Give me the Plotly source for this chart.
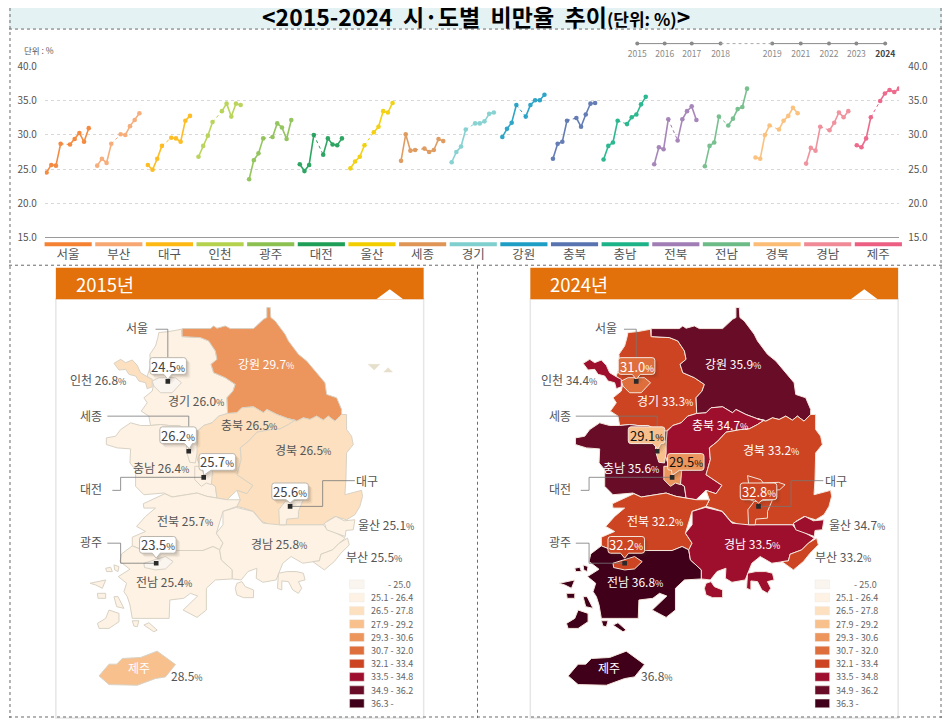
import plotly.graph_objects as go

W, H = 952, 724
PAD, INNER_W, INNER_H = 8, 936, 708   # the picture shows the window inside an 8 px frame
FONT = "Noto Sans CJK KR"
GREY = "#555555"

# ---------- data ----------
REGIONS = ["서울", "부산", "대구", "인천", "광주", "대전", "울산", "세종", "경기", "강원", "충북", "충남", "전북", "전남", "경북", "경남", "제주"]
YEARS = [2015, 2016, 2017, 2018, 2019, 2021, 2022, 2023, 2024]
YEAR_SLOTS = [0, 1, 2, 3, 5, 6, 7, 8, 9]
SERIES_COLORS = ["#F58233", "#F7A872", "#FDB813", "#B5D24F", "#8CC152", "#1E9E56", "#F2CE00", "#DE9555", "#7FCFCF",
                 "#1E9EC4", "#5873AF", "#1DB388", "#A07DB5", "#6DBB86", "#FBBC75", "#EF8A96", "#EC5F83"]
SEOUL = [24.5, 25.6, 25.5, 28.7, 28.6, 29.4, 30.3, 29.0, 31.0]
BUSAN = [25.5, 26.5, 25.9, 28.7, 30.1, 30.0, 31.3, 32.2, 33.2]
DAEGU = [25.6, 24.9, 26.5, 28.4, 29.6, 29.5, 29.0, 32.1, 32.8]
INCHEON = [26.8, 28.4, 29.9, 31.9, 33.5, 34.6, 32.7, 34.6, 34.4]
GWANGJU = [23.5, 26.3, 27.3, 29.5, 29.7, 31.7, 31.1, 29.4, 32.2]
DAEJEON = [25.7, 24.7, 25.6, 30.0, 27.1, 29.5, 28.6, 28.5, 29.5]
ULSAN = [25.1, 26.1, 26.8, 28.5, 30.4, 31.2, 33.5, 33.3, 34.7]
SEJONG = [26.2, 30.1, 27.7, 27.8, 28.0, 27.5, 27.8, 29.4, 29.1]
GYEONGGI = [26.0, 27.5, 28.3, 30.8, 31.7, 31.7, 32.0, 33.1, 33.3]
GANGWON = [29.7, 30.9, 31.8, 34.4, 32.7, 34.4, 35.1, 35.1, 35.9]
CHUNGBUK = [26.5, 28.7, 29.0, 32.1, 32.5, 31.2, 33.0, 34.6, 34.7]
CHUNGNAM = [26.4, 28.4, 28.9, 32.1, 31.6, 32.6, 33.0, 34.5, 35.6]
JEONBUK = [25.7, 28.2, 27.9, 32.3, 29.2, 32.3, 33.5, 34.2, 32.2]
JEONNAM = [25.4, 28.4, 28.9, 32.7, 31.4, 32.4, 33.8, 34.1, 36.8]
GYEONGBUK = [26.7, 26.5, 30.0, 31.4, 30.8, 32.1, 32.8, 34.0, 33.2]
GYEONGNAM = [25.8, 28.1, 27.7, 31.2, 30.7, 31.8, 33.3, 32.6, 33.5]
JEJU = [28.5, 28.2, 29.5, 32.6, 35.0, 36.1, 36.6, 36.3, 36.8]
ALL_SERIES = [SEOUL, BUSAN, DAEGU, INCHEON, GWANGJU, DAEJEON, ULSAN, SEJONG, GYEONGGI, GANGWON, CHUNGBUK, CHUNGNAM,
              JEONBUK, JEONNAM, GYEONGBUK, GYEONGNAM, JEJU]
MAP_2015 = dict(zip(REGIONS, [24.5, 25.5, 25.6, 26.8, 23.5, 25.7, 25.1, 26.2, 26.0, 29.7, 26.5, 26.4, 25.7, 25.4, 26.5, 25.8, 28.5]))
MAP_2024 = dict(zip(REGIONS, [31.0, 33.2, 32.8, 34.4, 32.2, 29.5, 34.7, 29.1, 33.3, 35.9, 34.7, 35.6, 32.2, 36.8, 33.2, 33.5, 36.8]))
BIN_UPPER = [25.0, 26.4, 27.8, 29.2, 30.6, 32.0, 33.4, 34.8, 36.2, 99]
BIN_COLORS = ["#FBF5F0", "#FDF2E4", "#FCE0BF", "#F8C08C", "#EC955C", "#DE6E3C", "#CC4421", "#9E0F2E", "#680C28", "#40001A"]
BIN_LABELS = ["- 25.0", "25.1 - 26.4", "26.5 - 27.8", "27.9 - 29.2", "29.3 - 30.6", "30.7 - 32.0", "32.1 - 33.4", "33.5 - 34.8", "34.9 - 36.2", "36.3 -"]

# ---------- schematic map outlines (map units) ----------
OUT_GYEONGGI = [(355,200),(385,197),(423,190),(425,212),(480,215),(505,225),(525,255),(530,280),(512,295),(520,320),(555,335),(585,355),(578,375),(560,395),(562,442),(535,450),(515,470),(490,478),(470,495),(440,490),(415,478),(385,478),(360,475),(330,478),(325,450),(302,435),(320,410),(310,395),(335,375),(340,350),(320,330),(330,300),(328,265),(345,240),(352,215)]
OUT_GANGWON = [(425,188),(510,188),(520,180),(530,187),(555,180),(570,188),(640,188),(670,160),(680,155),(680,125),(690,125),(692,155),(705,165),(735,205),(745,225),(775,265),(800,285),(830,320),(855,350),(860,385),(890,395),(905,430),(905,445),(885,465),(865,450),(850,462),(830,450),(810,460),(790,455),(770,465),(745,458),(710,445),(680,430),(670,440),(640,422),(605,425),(590,440),(562,442),(560,395),(578,375),(585,355),(555,335),(520,320),(512,295),(530,280),(525,255),(505,225),(480,215),(425,212)]
OUT_INCHEON = [(220,292),(240,280),(255,290),(275,282),(290,298),(300,320),(320,332),(335,340),(335,362),(320,368),(315,350),(295,345),(285,330),(265,325),(255,310),(235,312)]
OUT_CHUNGBUK = [(562,442),(590,440),(605,425),(640,422),(670,440),(680,430),(710,445),(745,458),(765,462),(745,475),(720,488),(695,490),(650,498),(625,525),(600,545),(603,580),(590,625),(638,657),(620,682),(590,672),(560,700),(530,695),(525,660),(510,650),(515,600),(475,590),(465,560),(470,530),(473,495),(490,478),(515,470),(535,450)]
OUT_CHUNGNAM = [(330,478),(300,478),(270,470),(240,490),(225,510),(197,515),(197,535),(230,545),(270,548),(268,590),(285,610),(285,660),(310,685),(370,680),(395,692),(440,685),(470,680),(500,690),(530,695),(525,660),(510,650),(515,600),(475,590),(465,560),(470,530),(473,495),(440,490),(415,478),(385,478),(360,475)]
OUT_GYEONGBUK = [(745,458),(770,465),(790,455),(810,460),(830,450),(850,462),(865,450),(885,465),(905,445),(920,445),(920,490),(935,510),(940,535),(920,560),(918,640),(915,685),(965,672),(968,690),(960,720),(945,745),(920,760),(885,750),(860,765),(850,775),(745,775),(712,775),(690,775),(665,765),(640,735),(610,725),(590,720),(600,700),(590,672),(620,682),(638,657),(590,625),(603,580),(600,545),(625,525),(650,498),(695,490),(720,488),(745,475),(765,462)]
OUT_JEONBUK = [(308,712),(373,682),(395,692),(440,685),(470,680),(500,690),(530,695),(560,700),(600,700),(590,720),(548,735),(528,800),(548,830),(538,850),(518,840),(488,852),(400,852),(310,852),(275,838),(275,812),(315,795),(288,780),(315,750),(345,725),(310,725)]
OUT_JEONNAM = [(275,838),(310,852),(400,852),(488,852),(518,840),(538,850),(543,880),(576,910),(576,937),(525,940),(498,965),(498,1030),(470,1052),(428,1030),(472,988),(450,980),(430,995),(388,1000),(386,1055),(300,1055),(275,1055),(268,1015),(260,990),(250,975),(258,950),(233,930),(268,908),(238,885),(243,862)]
OUT_GYEONGNAM = [(548,735),(588,723),(638,735),(668,770),(718,775),(850,775),(858,785),(890,800),(916,815),(898,830),(878,850),(843,863),(838,883),(818,885),(788,890),(753,870),(728,890),(708,940),(668,947),(648,935),(650,905),(623,915),(603,940),(576,937),(576,910),(543,880),(538,850),(548,830),(528,800),(548,775)]
OUT_ULSAN = [(853,770),(888,750),(913,763),(945,760),(940,790),(918,792),(916,810),(890,800),(860,790)]
OUT_BUSAN = [(923,815),(928,835),(903,860),(883,885),(853,910),(818,885),(838,883),(843,863),(878,850),(898,830)]
OUT_DAEGU = [(735,705),(790,700),(775,735),(775,755),(740,758),(738,775),(718,775),(716,730)]
OUT_GUNWI = [(715,628),(755,640),(762,650),(808,648),(828,655),(812,670),(795,672),(790,700),(735,705),(700,690),(735,665),(718,650)]
OUT_SEOUL = [(335,345),(355,335),(380,335),(405,335),(423,350),(395,380),(360,380),(340,360)]
OUT_SEJONG = [(438,525),(470,525),(470,560),(465,590),(448,588),(438,555)]
OUT_DAEJEON = [(463,600),(518,600),(513,655),(498,650),(483,660),(463,640)]
OUT_GWANGJU = [(310,890),(340,880),(375,870),(398,885),(375,907),(345,910),(312,903)]
OUT_JEJU = [(175,1227),(205,1192),(228,1192),(245,1175),(300,1172),(350,1153),(405,1193),(375,1230),(345,1235),(290,1255),(205,1253)]
ISLES_GYEONGNAM = [[(715,920),(740,915),(770,915),(790,920),(795,940),(775,945),(785,965),(775,980),(758,970),(745,945),(725,943),(725,970),(712,965)],
                   [(590,950),(605,945),(615,960),(640,970),(640,993),(610,993),(590,985),(585,965)]]
ISLES_JEONNAM = [[(170,1070),(195,1055),(205,1030),(235,1040),(235,1065),(205,1085),(175,1085)],
                 [(148,950),(172,945),(195,940),(185,965),(165,955)],
                 [(170,980),(195,980),(195,995),(172,995)],
                 [(220,990),(232,990),(250,1025),(228,1020)],
                 [(310,1075),(325,1068),(350,1090),(340,1095)],
                 [(275,1062),(295,1062),(290,1080),(280,1078)],
                 [(195,905),(210,902),(215,915),(198,915)],
                 [(220,895),(235,900),(232,915),(222,910)]]
ISLES_EAST = [[(985,295),(1020,295),(1003,312)], [(1032,318),(1058,318),(1045,305)]]

BASE = [("경기", OUT_GYEONGGI), ("강원", OUT_GANGWON), ("인천", OUT_INCHEON), ("충남", OUT_CHUNGNAM), ("충북", OUT_CHUNGBUK),
        ("경북", OUT_GYEONGBUK), ("전북", OUT_JEONBUK), ("전남", OUT_JEONNAM), ("경남", OUT_GYEONGNAM), ("울산", OUT_ULSAN),
        ("부산", OUT_BUSAN), ("대구", OUT_DAEGU), ("서울", OUT_SEOUL), ("세종", OUT_SEJONG), ("대전", OUT_DAEJEON),
        ("광주", OUT_GWANGJU), ("제주", OUT_JEJU)]
ISLES = [("경남", i) for i in ISLES_GYEONGNAM] + [("전남", i) for i in ISLES_JEONNAM]

# ---------- helpers: reference pixels to paper fractions ----------
px = lambda x: min(1, max(0, (x - PAD) / INNER_W))
py = lambda y: min(1, max(0, 1 - (y - PAD) / INNER_H))
MAP_BOTTOM_Y = (PAD + INNER_H - 265) * 3


def bin_color(v):
    for up, c in zip(BIN_UPPER, BIN_COLORS):
        if v <= up:
            return c
    return BIN_COLORS[-1]


def pct(v, big=12, small=9):
    return f"<span style='font-size:{big}px'>{v:.1f}</span><span style='font-size:{small}px'>%</span>"


fig = go.Figure()

# ---------- small multiple lines ----------
STEP_PX, PERIOD_PX, FIRST_PX = 4.7, 50.8, 45.7
x_of = lambda i, s: i * PERIOD_PX / STEP_PX + s
for i, (name, vals, col) in enumerate(zip(REGIONS, ALL_SERIES, SERIES_COLORS)):
    xs = [x_of(i, s) for s in YEAR_SLOTS]
    fig.add_trace(go.Scatter(x=xs[3:5], y=vals[3:5], mode="lines", line=dict(color=col, width=1, dash="dot"),
                             xaxis="x", yaxis="y", hoverinfo="skip", showlegend=False))
    fig.add_trace(go.Scatter(x=xs[:4] + [None] + xs[4:], y=vals[:4] + [None] + vals[4:], mode="lines+markers", name=name,
                             line=dict(color=col, width=1.6), marker=dict(color=col, size=4.6), opacity=0.92,
                             xaxis="x", yaxis="y", showlegend=False))
fig.add_trace(go.Scatter(x=[0], y=[15], mode="markers", marker=dict(opacity=0), xaxis="x", yaxis="y2",
                         hoverinfo="skip", showlegend=False))

# ---------- time key ----------
KEY_POS = [0, 0.97, 1.93, 2.95, 4.78, 5.79, 6.79, 7.76, 8.78]
fig.add_trace(go.Scatter(x=KEY_POS[:4] + [None] + KEY_POS[4:], y=[0] * 4 + [None] + [0] * 5, mode="lines+markers",
                         line=dict(color="#8a8a8a", width=1), marker=dict(color="#8a8a8a", size=4), cliponaxis=False,
                         xaxis="x2", yaxis="y3", hoverinfo="skip", showlegend=False))
fig.add_trace(go.Scatter(x=KEY_POS[3:5], y=[0, 0], mode="lines", line=dict(color="#aaaaaa", width=1, dash="dot"),
                         xaxis="x2", yaxis="y3", hoverinfo="skip", showlegend=False))

# ---------- maps ----------
PANELS = [dict(ax="x3", ay="y4", vals=MAP_2015, edge="#D9D2C4", year=2015), dict(ax="x4", ay="y5", vals=MAP_2024, edge="#F4E6DC", year=2024)]
for P in PANELS:
    for name, outline in BASE + ISLES + ([("대구", OUT_GUNWI)] if P["year"] == 2024 else []):
        xs = [p[0] for p in outline] + [outline[0][0]]
        ys = [p[1] for p in outline] + [outline[0][1]]
        fig.add_trace(go.Scatter(x=xs, y=ys, mode="lines", fill="toself", fillcolor=bin_color(P["vals"][name]),
                                 line=dict(color=P["edge"], width=1), xaxis=P["ax"], yaxis=P["ay"], name=name,
                                 hoverinfo="name", showlegend=False))
    if P["year"] == 2015:
        for isle in ISLES_EAST:
            fig.add_trace(go.Scatter(x=[p[0] for p in isle] + [isle[0][0]], y=[p[1] for p in isle] + [isle[0][1]], mode="lines",
                                     fill="toself", fillcolor="#E6DFCC", line=dict(color="#E6DFCC", width=0.5),
                                     xaxis=P["ax"], yaxis=P["ay"], hoverinfo="skip", showlegend=False))

shapes, ann = [], []


def rect(x0, y0, x1, y1, **kw):
    shapes.append(dict(type="rect", xref="paper", yref="paper", x0=px(x0), x1=px(x1), y0=py(y0), y1=py(y1), **kw))


def dots(x0, y0, x1, y1):
    shapes.append(dict(type="line", xref="paper", yref="paper", x0=px(x0), x1=px(x1), y0=py(y0), y1=py(y1),
                       line=dict(color="#6a6a6a", width=1, dash="dot")))


# header band and dotted frame
rect(0, 0, 952, 29, fillcolor="#E4F2F4", line=dict(width=0), layer="below")
for seg in [(0, 29, 952, 29), (0, 264.5, 952, 264.5), (478, 265, 478, 724), (0, 715, 952, 715), (9, 0, 9, 724), (943, 0, 943, 724)]:
    dots(*seg)

# category colour bars
for i, col in enumerate(SERIES_COLORS):
    rect(43.7 + i * PERIOD_PX, 241.7, 91 + i * PERIOD_PX, 245.7, fillcolor=col, line=dict(width=0))

ann.append(dict(xref="paper", yref="paper", x=px(476), y=py(15.5), xanchor="center", yanchor="middle", showarrow=False,
                font=dict(family=FONT, size=23, color="#000"),
                text="<b>&lt;2015-2024\u00a0 시·도별\u00a0 비만율\u00a0 추이<span style='font-size:17px'>(단위: %)</span>&gt;</b>"))
ann.append(dict(xref="paper", yref="paper", x=px(21), y=py(50), xanchor="left", yanchor="middle", showarrow=False,
                font=dict(family=FONT, size=8.5, color=GREY), text="단위 : %"))

# panels
for left, right, year in [(55, 424, 2015), (531, 900, 2024)]:
    rect(left, 298, right, 720, fillcolor="white", line=dict(color="#E6E6E6", width=1.5), layer="below")
    rect(left, 267, right, 298.5, fillcolor="#E2700B", line=dict(width=0), layer="below")
    mid = right - 34
    shapes.append(dict(type="path", xref="paper", yref="paper", fillcolor="white", line=dict(width=0), layer="above",
                       path=f"M {px(mid-13.5)} {py(298.5)} L {px(mid)} {py(288.5)} L {px(mid+13.5)} {py(298.5)} Z"))
    ann.append(dict(xref="paper", yref="paper", x=px(left + 18), y=py(283.5), xanchor="left", yanchor="middle", showarrow=False,
                    font=dict(family=FONT, size=18.5, color="white"), text=f"{year}년"))

LEADERS = {"서울": [(345,190),(382,190),(382,346)], "세종": [(200,450),(445,450),(445,555)], "대전": [(215,672),(240,672),(240,633),(490,633)],
           "대구": [(945,643),(848,643),(848,720),(750,720)], "광주": [(200,830),(240,830),(240,890),(347,890)]}
CALLOUTS = {"서울": (328,275,382,340), "세종": (358,482,447,548), "대전": (476,562,490,627), "대구": (695,650,750,710), "광주": (297,810,347,875)}
NAME_ONLY = {"서울": (290,190), "세종": (152,452), "대전": (152,672), "대구": (982,647), "광주": (152,830)}
INLINE = {"인천": (173,345), "강원": (677,298), "경기": (467,408), "충북": (627,478), "경북": (790,553), "충남": (362,607), "전북": (433,768),
          "경남": (716,835), "울산": (1040,780), "부산": (1002,875), "전남": (370,950)}
INLINE_2024 = {"인천": (178,345), "강원": (671,298), "경기": (466,408), "충북": (631,478), "경북": (785,553), "충남": (363,607), "전북": (436,768),
               "경남": (728,835), "울산": (1043,780), "부산": (1003,875), "전남": (376,950)}
WHITE_2015 = {"강원"}
WHITE_2024 = {"강원", "경기", "충북", "경북", "충남", "전북", "경남", "전남"}
BOX_W, BOX_H, R = 110, 50, 8
LABEL_LIFT = 1.5

for P, dx, leg_x in [(PANELS[0], 0, 929), (PANELS[1], -2, 918)]:
    xr, yr = P["ax"], P["ay"]
    is15 = P["year"] == 2015
    # legend
    for k, (c, lab) in enumerate(zip(BIN_COLORS, BIN_LABELS)):
        yc = 953 + 39.6 * k
        shapes.append(dict(type="rect", xref=xr, yref=yr, x0=leg_x, x1=leg_x + 44, y0=yc - 13, y1=yc + 13, fillcolor=c, line=dict(color="#EFEAE4", width=0.5)))
        if k == 0:
            ann.append(dict(xref=xr, yref=yr, x=leg_x + 192, y=yc, xanchor="right", showarrow=False, font=dict(family=FONT, size=9, color="#666"), text=lab))
        else:
            ann.append(dict(xref=xr, yref=yr, x=leg_x + 58, y=yc, xanchor="left", showarrow=False, font=dict(family=FONT, size=9, color="#666"), text=lab))
    # leaders
    for name, pts in LEADERS.items():
        d = "M " + " L ".join(f"{a+dx} {b}" for a, b in pts)
        shapes.append(dict(type="path", xref=xr, yref=yr, path=d, line=dict(color="#777", width=0.8)))
    # region labels
    for name, (x, y) in (INLINE if is15 else INLINE_2024).items():
        col = "white" if name in (WHITE_2015 if is15 else WHITE_2024) else GREY
        ann.append(dict(xref=xr, yref=yr, x=x, y=y, yshift=LABEL_LIFT, showarrow=False, font=dict(family=FONT, size=12, color=col),
                        text=f"{name} " + pct(P["vals"][name], 12, 9)))
    for name, (x, y) in NAME_ONLY.items():
        ann.append(dict(xref=xr, yref=yr, x=x + dx, y=y, yshift=LABEL_LIFT, showarrow=False, font=dict(family=FONT, size=12, color=GREY), text=name))
    ann.append(dict(xref=xr, yref=yr, x=295 + 3 * (not is15), y=1207, yshift=LABEL_LIFT, showarrow=False, font=dict(family=FONT, size=12, color="white"), text="제주"))
    ann.append(dict(xref=xr, yref=yr, x=440 + 3 * (not is15), y=1230, yshift=LABEL_LIFT, showarrow=False, font=dict(family=FONT, size=12, color=GREY), text=pct(P["vals"]["제주"], 12, 9)))
    # callouts
    for name, (bx, by, tx, ty) in CALLOUTS.items():
        v = P["vals"][name]
        fill = "white" if is15 else bin_color(v)
        edge = "#BDB6AC" if is15 else "#F4E6DC"
        txt = "#444" if is15 else ("#111" if v < 30 else "white")
        x0, x1, y0, y1 = bx + dx, bx + dx + BOX_W, by, by + BOX_H
        tip = tx + dx
        base = min(max(tip, x0 + 24), x1 - 24)
        path = lambda o: (f"M {x0+R+o} {y0+o} L {x1-R+o} {y0+o} Q {x1+o} {y0+o} {x1+o} {y0+R+o} L {x1+o} {y1-R+o} Q {x1+o} {y1+o} {x1-R+o} {y1+o} "
                          f"L {base+12+o} {y1+o} L {tip+o} {ty+o} L {base-12+o} {y1+o} L {x0+R+o} {y1+o} Q {x0+o} {y1+o} {x0+o} {y1-R+o} "
                          f"L {x0+o} {y0+R+o} Q {x0+o} {y0+o} {x0+R+o} {y0+o} Z")
        for o, a in [(12, 0.06), (8, 0.09), (4, 0.12)]:
            shapes.append(dict(type="path", xref=xr, yref=yr, path=path(o), fillcolor=f"rgba(70,50,40,{a})", line=dict(width=0)))
        shapes.append(dict(type="path", xref=xr, yref=yr, path=path(0), fillcolor=fill, line=dict(color=edge, width=1)))
        sx, sy = LEADERS[name][-1]
        shapes.append(dict(type="rect", xref=xr, yref=yr, x0=sx + dx - 7, x1=sx + dx + 7, y0=sy - 7, y1=sy + 7, fillcolor="#2A2A2A", line=dict(width=0)))
        ann.append(dict(xref=xr, yref=yr, x=(x0 + x1) / 2, y=(y0 + y1) / 2, showarrow=False, font=dict(family=FONT, size=13, color=txt), text=pct(v, 13, 9.5)))

KEY_TEXT = [str(y) for y in YEARS[:-1]] + [f"<b><span style='color:#444'>{YEARS[-1]}</span></b>"]

fig.update_layout(
    width=W, height=H, autosize=False, margin=dict(l=0, r=0, t=0, b=0), paper_bgcolor="white", plot_bgcolor="rgba(0,0,0,0)",
    font=dict(family=FONT, color=GREY), showlegend=False, shapes=shapes, annotations=ann,
    xaxis=dict(domain=[px(44), px(901)], range=[(44 - FIRST_PX) / STEP_PX, (901 - FIRST_PX) / STEP_PX], tickmode="array",
               tickvals=[x_of(i, 0) + (67.3 - FIRST_PX) / STEP_PX for i in range(len(REGIONS))], ticktext=REGIONS,
               showgrid=False, zeroline=False, showline=True, linecolor="#9a9a9a", linewidth=1, ticks="outside", ticklen=6,
               tickcolor="rgba(0,0,0,0)", tickfont=dict(family=FONT, size=12.5, color=GREY), fixedrange=True),
    yaxis=dict(domain=[py(236.5), py(66.7)], range=[15, 40], tickmode="array", tickvals=[15, 20, 25, 30, 35, 40], tickformat=".1f",
               showgrid=True, gridcolor="#D8D8D8", griddash="dot", gridwidth=1, zeroline=False, anchor="x",
               ticks="outside", ticklen=5, tickcolor="rgba(0,0,0,0)", tickfont=dict(family=FONT, size=10, color=GREY), fixedrange=True),
    yaxis2=dict(domain=[py(236.5), py(66.7)], range=[15, 40], overlaying="y", side="right", tickmode="array",
                tickvals=[15, 20, 25, 30, 35, 40], tickformat=".1f", showgrid=False, zeroline=False, anchor="x",
                ticks="outside", ticklen=6, tickcolor="rgba(0,0,0,0)", tickfont=dict(family=FONT, size=10, color=GREY), fixedrange=True),
    xaxis2=dict(domain=[px(638.3), px(887)], range=[0, 8.78], tickmode="array", tickvals=KEY_POS, ticktext=KEY_TEXT,
                showgrid=False, zeroline=False, showline=False, anchor="y3", ticks="outside", ticklen=1, tickcolor="rgba(0,0,0,0)",
                tickfont=dict(family=FONT, size=8.5, color="#8a8a8a"), fixedrange=True, tickangle=0),
    yaxis3=dict(domain=[py(45), py(42)], range=[-1, 1], visible=False, anchor="x2", fixedrange=True),
    xaxis3=dict(domain=[px(40), px(440)], range=[0, 1200], visible=False, anchor="y4", fixedrange=True),
    yaxis4=dict(domain=[0, py(265)], range=[MAP_BOTTOM_Y, 0], visible=False, anchor="x3", fixedrange=True),
    xaxis4=dict(domain=[px(510.6), px(910.6)], range=[0, 1200], visible=False, anchor="y5", fixedrange=True),
    yaxis5=dict(domain=[0, py(265)], range=[MAP_BOTTOM_Y, 0], visible=False, anchor="x4", fixedrange=True),
    modebar=dict(bgcolor="rgba(0,0,0,0)", color="rgba(0,0,0,0)", activecolor="rgba(0,0,0,0)"),
)

fig.write_html("out.html", config=dict(displayModeBar=False), post_script="document.body.style.margin='0';")
